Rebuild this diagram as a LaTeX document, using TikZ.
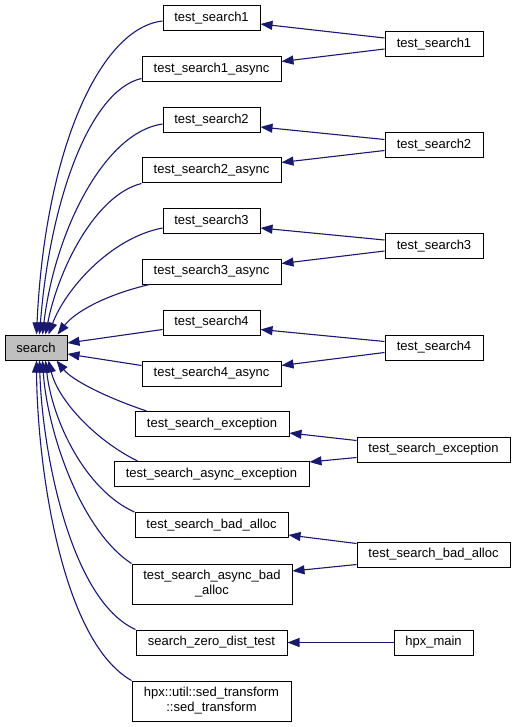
\documentclass[tikz,border=0pt]{standalone}
\usepackage{fontspec}
\setmainfont{Liberation Sans}
\usetikzlibrary{arrows.meta}
\definecolor{edgeblue}{HTML}{191970}
\definecolor{hilite}{HTML}{BFBFBF}
\begin{document}
\begin{tikzpicture}[x=1pt,y=-1pt,
  box/.style={draw=black, line width=1pt, fill=white, minimum height=25pt, inner sep=0pt,
    font=\fontsize{13}{15}\selectfont, align=center},
  tallbox/.style={box, minimum height=40pt},
  edge/.style={draw=edgeblue, line width=1.1pt, -{Triangle[length=12pt,width=9pt]}, fill=none}]
\fill[white] (0,0) rectangle (516,727);
\useasboundingbox (0,0) rectangle (516,727);
% nodes
\node[box, fill=hilite, minimum width=62pt] (search) at (36,347.5) {search};
\node[box, minimum width=97pt]  (ts1)  at (211.5,18)    {test\_search1};
\node[box, minimum width=139pt] (ts1a) at (211.5,69.5)  {test\_search1\_async};
\node[box, minimum width=97pt]  (ts2)  at (211.5,120)   {test\_search2};
\node[box, minimum width=139pt] (ts2a) at (211.5,170.5) {test\_search2\_async};
\node[box, minimum width=97pt]  (ts3)  at (211.5,221)   {test\_search3};
\node[box, minimum width=139pt] (ts3a) at (211.5,271.5) {test\_search3\_async};
\node[box, minimum width=97pt]  (ts4)  at (211.5,322.5) {test\_search4};
\node[box, minimum width=139pt] (ts4a) at (211.5,373.5) {test\_search4\_async};
\node[box, minimum width=154pt] (tse)  at (212,424)     {test\_search\_exception};
\node[box, minimum width=195pt] (tsae) at (211.5,474)   {test\_search\_async\_exception};
\node[box, minimum width=153pt] (tsba) at (211.5,525)   {test\_search\_bad\_alloc};
\node[tallbox, minimum width=160pt] (tsaba) at (212,584) {test\_search\_async\_bad\\\_alloc};
\node[box, minimum width=151pt] (szdt) at (211.5,642.5) {search\_zero\_dist\_test};
\node[tallbox, minimum width=159pt] (sed) at (211.5,701) {hpx::util::sed\_transform\\::sed\_transform};
\node[box, minimum width=98pt]  (rts1) at (434,44)      {test\_search1};
\node[box, minimum width=98pt]  (rts2) at (434,145.5)   {test\_search2};
\node[box, minimum width=98pt]  (rts3) at (434,246)     {test\_search3};
\node[box, minimum width=98pt]  (rts4) at (434,347.5)   {test\_search4};
\node[box, minimum width=153pt] (rtse) at (433.5,449.5) {test\_search\_exception};
\node[box, minimum width=153pt] (rtsba) at (433.5,554.5) {test\_search\_bad\_alloc};
\node[box, minimum width=79pt]  (hpx)  at (433.5,642.5) {hpx\_main};
% left curves into search
\draw[edge] ([yshift=-3pt]ts1.west) .. controls (100,28) and (45,150) .. ([xshift=32pt]search.north west);
\draw[edge] ([yshift=-9pt]ts1a.west) .. controls (90,90) and (50,200) .. ([xshift=35pt]search.north west);
\draw[edge] ([yshift=-4pt]ts2.west) .. controls (105,132) and (55,230) .. ([xshift=38pt]search.north west);
\draw[edge] (ts2a.south west) .. controls (95,195) and (58,270) .. ([xshift=41pt]search.north west);
\draw[edge] ([yshift=-7pt]ts3.west) .. controls (110,238) and (65,290) .. ([xshift=44pt]search.north west);
\draw[edge] ([xshift=8pt]ts3a.south west) .. controls (105,295) and (75,312) .. ([xshift=53pt]search.north west);
\draw[edge] ([yshift=-7pt]ts4.west) -- ([yshift=4.5pt]search.east);
\draw[edge] ([yshift=8pt]ts4a.west) -- ([yshift=-6.5pt]search.east);
\draw[edge] ([xshift=12pt]tse.north west) .. controls (105,397) and (72,380) .. ([xshift=52pt]search.south west);
\draw[edge] ([xshift=24pt]tsae.north west) .. controls (95,440) and (58,400) .. ([xshift=44pt]search.south west);
\draw[edge] (tsba.north west) .. controls (85,490) and (52,420) .. ([xshift=41pt]search.south west);
\draw[edge] (tsaba.north west) .. controls (80,530) and (47,430) .. ([xshift=38pt]search.south west);
\draw[edge] (szdt.north west) .. controls (70,600) and (42,450) .. ([xshift=35pt]search.south west);
\draw[edge] (sed.north west) .. controls (60,640) and (37,460) .. ([xshift=32pt]search.south west);
% right edges
\draw[edge] ([yshift=6pt]rts1.west) -- ([yshift=-6pt]ts1.east);
\draw[edge] ([yshift=-5pt]rts1.west) -- ([yshift=8pt]ts1a.east);
\draw[edge] ([yshift=6pt]rts2.west) -- ([yshift=-7pt]ts2.east);
\draw[edge] ([yshift=-5pt]rts2.west) -- ([yshift=8pt]ts2a.east);
\draw[edge] ([yshift=6pt]rts3.west) -- ([yshift=-7pt]ts3.east);
\draw[edge] ([yshift=-5pt]rts3.west) -- ([yshift=8pt]ts3a.east);
\draw[edge] ([yshift=6pt]rts4.west) -- ([yshift=-7pt]ts4.east);
\draw[edge] ([yshift=-5pt]rts4.west) -- ([yshift=8pt]ts4a.east);
\draw[edge] ([yshift=9pt]rtse.west) -- ([yshift=-9pt]tse.east);
\draw[edge] ([yshift=-8pt]rtse.west) -- ([yshift=12pt]tsae.east);
\draw[edge] ([yshift=11pt]rtsba.west) -- ([yshift=-10pt]tsba.east);
\draw[edge] ([yshift=-10pt]rtsba.west) -- ([yshift=13pt]tsaba.east);
\draw[edge] (hpx.west) -- (szdt.east);
\end{tikzpicture}
\end{document}
